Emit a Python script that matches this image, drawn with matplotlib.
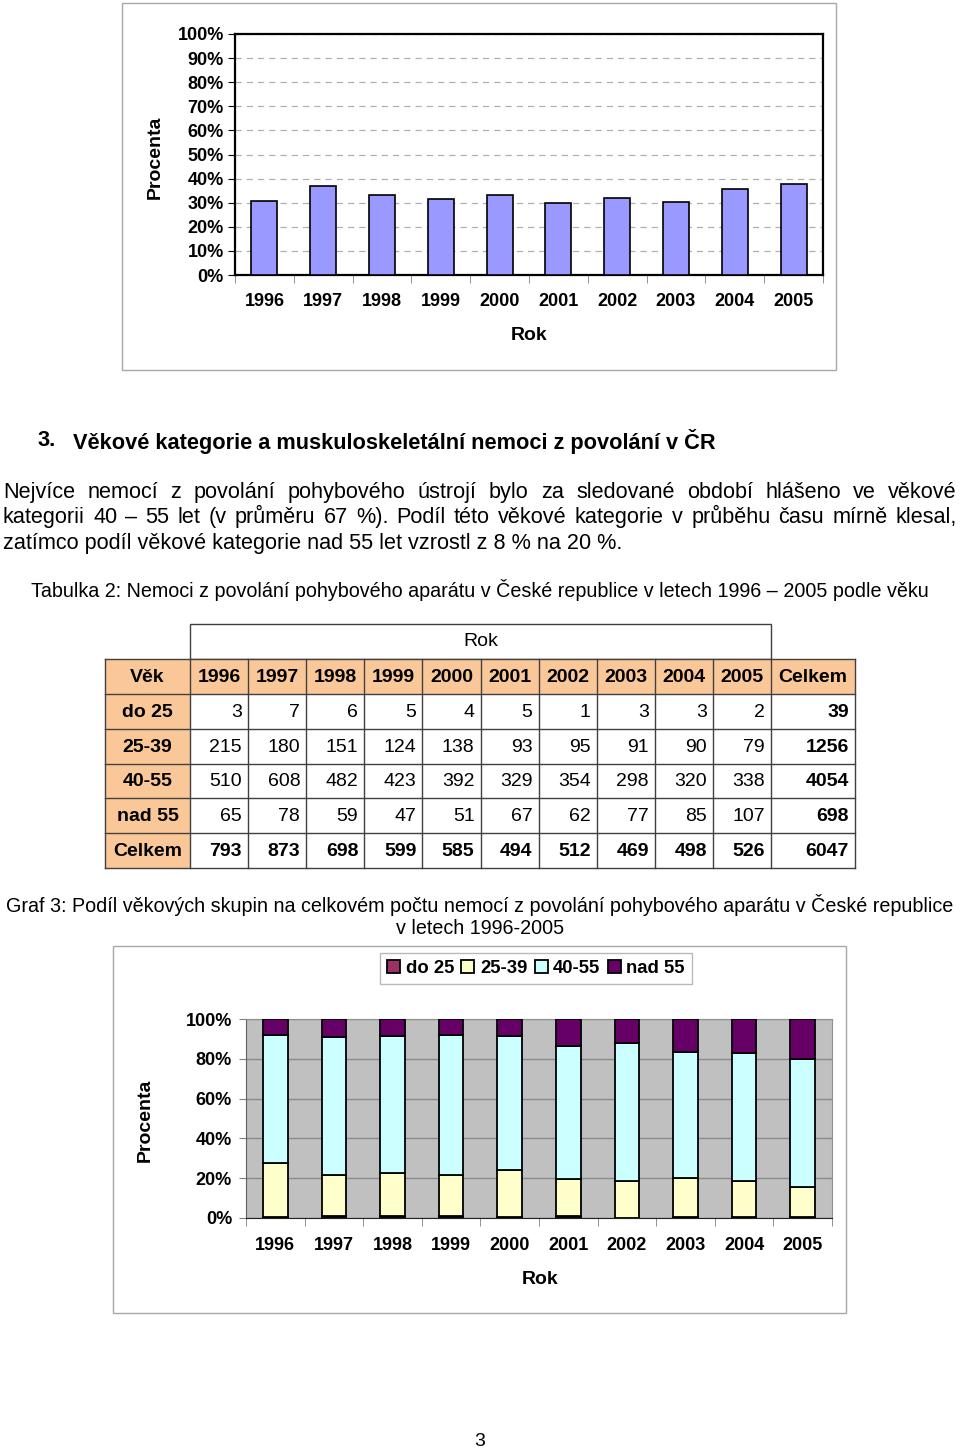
import matplotlib
matplotlib.use("Agg")
import matplotlib.pyplot as plt
from matplotlib.patches import Rectangle
import numpy as np

plt.rcParams['font.family'] = ['Liberation Sans', 'DejaVu Sans']

### data
years = ['1996', '1997', '1998', '1999', '2000', '2001', '2002', '2003', '2004', '2005']
share_top = [30.9, 37.1, 33.3, 31.4, 33.3, 29.8, 32.1, 30.3, 35.8, 37.6]

age_groups = ['do 25', '25-39', '40-55', 'nad 55']
do25 = [3, 7, 6, 5, 4, 5, 1, 3, 3, 2]
age25_39 = [215, 180, 151, 124, 138, 93, 95, 91, 90, 79]
age40_55 = [510, 608, 482, 423, 392, 329, 354, 298, 320, 338]
nad55 = [65, 78, 59, 47, 51, 67, 62, 77, 85, 107]
age_colors = ['#993366', '#FFFFCC', '#CCFFFF', '#660066']

counts = np.array([do25, age25_39, age40_55, nad55])
col_tot = counts.sum(axis=0)
row_tot = counts.sum(axis=1)

W, H = 960, 1451
fig = plt.figure(figsize=(W / 100, H / 100), dpi=100)

def rect(l, t, r, b):
    return [l / W, 1 - b / H, (r - l) / W, (b - t) / H]

### page layer (pixel coordinates)
page = fig.add_axes([0, 0, 1, 1], zorder=0)
page.set_xlim(0, W)
page.set_ylim(H, 0)
page.axis('off')

page.add_patch(Rectangle((122, 3), 714, 367, fill=False, edgecolor='#a8a8a8', lw=1))
page.add_patch(Rectangle((113, 946), 733, 367, fill=False, edgecolor='#a8a8a8', lw=1))

page.text(38, 441, '3.', fontsize=15.7, fontweight='bold', va='center')
page.text(73, 441, 'Věkové kategorie a muskuloskeletální nemoci z povolání v ČR',
          fontsize=15.7, fontweight='bold', va='center')

renderer = fig.canvas.get_renderer()

def justify(line, y, x0, x1, size):
    # words share one baseline, spaces stretched to fill x0..x1
    words = line.split(' ')
    arts = [page.text(0, y, w, fontsize=size, va='baseline') for w in words]
    widths = [a.get_window_extent(renderer).width for a in arts]
    gap = (x1 - x0 - sum(widths)) / (len(words) - 1)
    x = x0
    for a, w in zip(arts, widths):
        a.set_x(x)
        x += w + gap

para = ['Nejvíce nemocí z povolání pohybového ústrojí bylo za sledované období hlášeno ve věkové',
        'kategorii 40 – 55 let (v průměru 67 %). Podíl této věkové kategorie v průběhu času mírně klesal,',
        'zatímco podíl věkové kategorie nad 55 let vzrostl z 8 % na 20 %.']
justify(para[0], 498, 3, 957, 15.6)
justify(para[1], 523, 3, 957, 15.6)
page.text(3, 549, para[2], fontsize=15.6, va='baseline')

page.text(480, 590, 'Tabulka 2: Nemoci z povolání pohybového aparátu v České republice v letech 1996 – 2005 podle věku',
          fontsize=14.2, ha='center', va='center')

### table
xs = [105, 190] + [190 + 58.1 * (i + 1) for i in range(10)] + [855]
ys = [659, 694, 729, 764, 798, 833, 868]
fill = '#FAC898'
lc = '#404040'
page.add_patch(Rectangle((190, 624), xs[11] - 190, 35, fill=False, edgecolor=lc, lw=1))
page.text((190 + xs[11]) / 2, 642, 'Rok', fontsize=14, ha='center', va='center')
page.add_patch(Rectangle((xs[0], ys[0]), xs[-1] - xs[0], ys[1] - ys[0], color=fill, lw=0))
page.add_patch(Rectangle((xs[0], ys[0]), xs[1] - xs[0], ys[-1] - ys[0], color=fill, lw=0))
for x in xs:
    page.plot([x, x], [ys[0], ys[-1]], color=lc, lw=1)
for y in ys:
    page.plot([xs[0], xs[-1]], [y, y], color=lc, lw=1)

header = ['Věk'] + years + ['Celkem']
for j, h in enumerate(header):
    page.text((xs[j] + xs[j + 1]) / 2, (ys[0] + ys[1]) / 2 + 1, h, fontsize=14,
              fontweight='bold', ha='center', va='center')
rows = [(age_groups[i], list(counts[i]), row_tot[i]) for i in range(4)]
rows.append(('Celkem', list(col_tot), col_tot.sum()))
for i, (lab, vals, tot) in enumerate(rows):
    yc = (ys[i + 1] + ys[i + 2]) / 2 + 1
    page.text((xs[0] + xs[1]) / 2, yc, lab, fontsize=14, fontweight='bold', ha='center', va='center')
    bold = 'bold' if lab == 'Celkem' else 'normal'
    for j, v in enumerate(vals):
        page.text(xs[j + 2] - 6, yc, str(v), fontsize=14, fontweight=bold, ha='right', va='center')
    page.text(xs[-1] - 6, yc, str(tot), fontsize=14, fontweight='bold', ha='right', va='center')

page.text(480, 905, 'Graf 3: Podíl věkových skupin na celkovém počtu nemocí z povolání pohybového aparátu v České republice',
          fontsize=14.2, ha='center', va='center')
page.text(480, 928, 'v letech 1996-2005', fontsize=14.2, ha='center', va='center')
page.text(480, 1441, '3', fontsize=14, ha='center', va='center')

### top chart
ax1 = fig.add_axes(rect(235, 34, 823, 275), zorder=2)
x = np.arange(len(years))
ax1.bar(x, share_top, width=0.44, color='#9999FF', edgecolor='black', lw=1.2, zorder=3)
ax1.set_xlim(-0.5, 9.5)
ax1.set_ylim(0, 100)
ax1.set_yticks(range(0, 101, 10))
ax1.set_yticklabels([f'{v}%' for v in range(0, 101, 10)])
ax1.set_xticks(x)
ax1.set_xticklabels(years)
ax1.set_xticks(np.arange(-0.5, 10, 1), minor=True)
ax1.tick_params(axis='x', which='major', length=0, pad=13)
ax1.tick_params(axis='x', which='minor', length=6, color='#808080')
ax1.tick_params(axis='y', length=5, pad=3)
ax1.yaxis.grid(True, linestyle=(0, (5, 4)), color='#b0b0b0', lw=0.9)
ax1.set_axisbelow(True)
for s in ax1.spines.values():
    s.set_linewidth(1.6)
for lab in ax1.get_xticklabels() + ax1.get_yticklabels():
    lab.set_fontsize(13)
    lab.set_fontweight('bold')
page.text(529, 335, 'Rok', fontsize=14, fontweight='bold', ha='center', va='center')
page.text(155, 157, 'Procenta', fontsize=14, fontweight='bold', ha='center', va='center', rotation=90)

### bottom chart
ax2 = fig.add_axes(rect(246, 1019, 832, 1218), zorder=2)
ax2.set_facecolor('#C0C0C0')
pct = counts / col_tot * 100
bottom = np.zeros(len(years))
for i, g in enumerate(age_groups):
    ax2.bar(x, pct[i], bottom=bottom, width=0.42, color=age_colors[i],
            edgecolor='black', lw=1.3, label=g, zorder=3)
    bottom += pct[i]
ax2.set_xlim(-0.5, 9.5)
ax2.set_ylim(0, 100)
ax2.set_yticks(range(0, 101, 20))
ax2.set_yticklabels([f'{v}%' for v in range(0, 101, 20)])
ax2.set_xticks(x)
ax2.set_xticklabels(years)
ax2.set_xticks(np.arange(-0.5, 10, 1), minor=True)
ax2.tick_params(axis='x', which='major', length=0, pad=14)
ax2.tick_params(axis='x', which='minor', length=6, color='#808080')
ax2.tick_params(axis='y', length=5, pad=5, color='#808080')
ax2.yaxis.grid(True, color='#8a8a8a', lw=1)
ax2.set_axisbelow(True)
ax2.spines['top'].set_color('#909090')
ax2.spines['right'].set_color('#909090')
ax2.spines['left'].set_color('#606060')
ax2.spines['bottom'].set_color('#202020')
for lab in ax2.get_xticklabels() + ax2.get_yticklabels():
    lab.set_fontsize(13)
    lab.set_fontweight('bold')
leg = ax2.legend(loc='center', bbox_to_anchor=rect(378, 951, 694, 986), bbox_transform=fig.transFigure,
                 ncol=4, frameon=True, fancybox=False, edgecolor='#a8a8a8',
                 handlelength=0.7, handleheight=0.7, handletextpad=0.3, columnspacing=0.4,
                 borderpad=0.4, borderaxespad=0, prop={'size': 13.3, 'weight': 'bold'})
leg.get_frame().set_linewidth(1)
page.text(540, 1279, 'Rok', fontsize=14, fontweight='bold', ha='center', va='center')
page.text(145, 1120, 'Procenta', fontsize=14, fontweight='bold', ha='center', va='center', rotation=90)

fig.savefig('out.png', dpi=100)
